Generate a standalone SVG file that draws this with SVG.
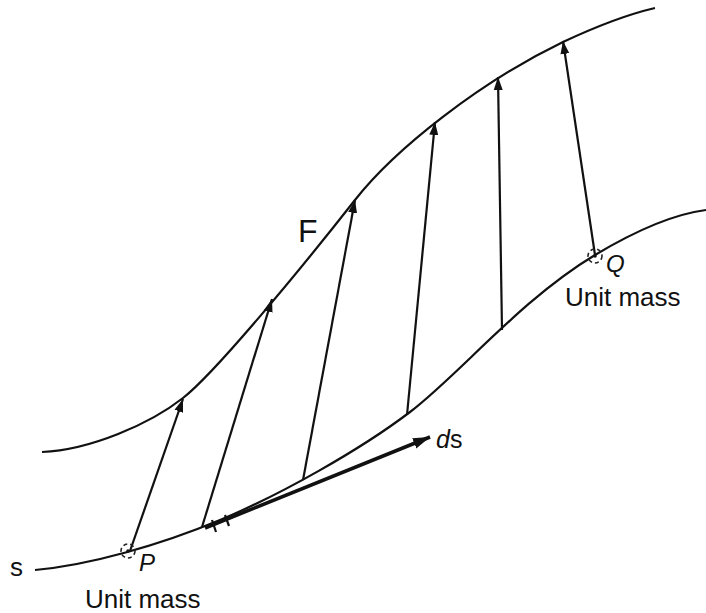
<svg xmlns="http://www.w3.org/2000/svg" width="706" height="613" viewBox="0 0 706 613">
<defs>
<style>
.curve{fill:none;stroke:#111;stroke-width:2.2}
.vec{fill:none;stroke:#111;stroke-width:2.2}
.thick{fill:none;stroke:#111;stroke-width:3.6}
.mark{fill:none;stroke:#222;stroke-width:1.6;stroke-dasharray:4 3}
.lbl{font-family:"Liberation Sans","DejaVu Sans",sans-serif;fill:#111}
.it{font-style:italic}
</style>
<marker id="ah" markerUnits="userSpaceOnUse" markerWidth="14" markerHeight="10" refX="13" refY="5" orient="auto">
<path d="M0,0.5 L13,5 L0,9.5 Z" fill="#111"/>
</marker>
<marker id="ahBig" markerUnits="userSpaceOnUse" markerWidth="18" markerHeight="12" refX="17" refY="6" orient="auto">
<path d="M0,0.5 L17,6 L0,11.5 Z" fill="#111"/>
</marker>
</defs>
<rect width="706" height="613" fill="#fff"/>
<g id="curves">
<path id="curve-F" class="curve" d="M42,452 C90,450 150,424 183,398 C215,373 300,270 355,200 C395,149 480,82 563,42 C595,27 625,15 655,8"/>
<path id="curve-s" class="curve" d="M35,570 C90,565 160,545 220,520 S360,450 410,412 S520,300 595,255 C640,228 675,214 706,210"/>
</g>
<g id="connectors">
<line class="vec" x1="130" y1="551" x2="183" y2="399" marker-end="url(#ah)"/>
<line class="vec" x1="202" y1="527" x2="272" y2="299" marker-end="url(#ah)"/>
<line class="vec" x1="303" y1="480" x2="355" y2="200" marker-end="url(#ah)"/>
<line class="vec" x1="407" y1="415" x2="435" y2="122" marker-end="url(#ah)"/>
<line class="vec" x1="502" y1="330" x2="498" y2="77" marker-end="url(#ah)"/>
<line class="vec" x1="595" y1="255" x2="563" y2="41" marker-end="url(#ah)"/>
<line class="thick" x1="205" y1="528" x2="430" y2="437" marker-end="url(#ahBig)"/>
<line class="vec" x1="212" y1="520" x2="216" y2="532"/>
<line class="vec" x1="225" y1="515" x2="229" y2="526"/>
</g>
<g id="node-P">
<circle class="mark" cx="128" cy="551" r="7"/>
<circle cx="128" cy="551" r="1.8" fill="#111"/>
<text class="lbl it" x="139" y="571" font-size="24">P</text>
<text class="lbl" x="85" y="608" font-size="26">Unit mass</text>
</g>
<g id="node-Q">
<circle class="mark" cx="595" cy="256" r="7"/>
<circle cx="595" cy="256" r="1.8" fill="#111"/>
<text class="lbl it" x="606" y="272" font-size="24">Q</text>
<text class="lbl" x="565" y="306" font-size="26">Unit mass</text>
</g>
<g id="node-F">
<text class="lbl" x="298" y="242" font-size="32">F</text>
</g>
<g id="node-s">
<text class="lbl" x="10" y="576" font-size="26">s</text>
</g>
<g id="node-ds">
<text class="lbl" x="436" y="448" font-size="25"><tspan class="it">d</tspan>s</text>
</g>
</svg>
